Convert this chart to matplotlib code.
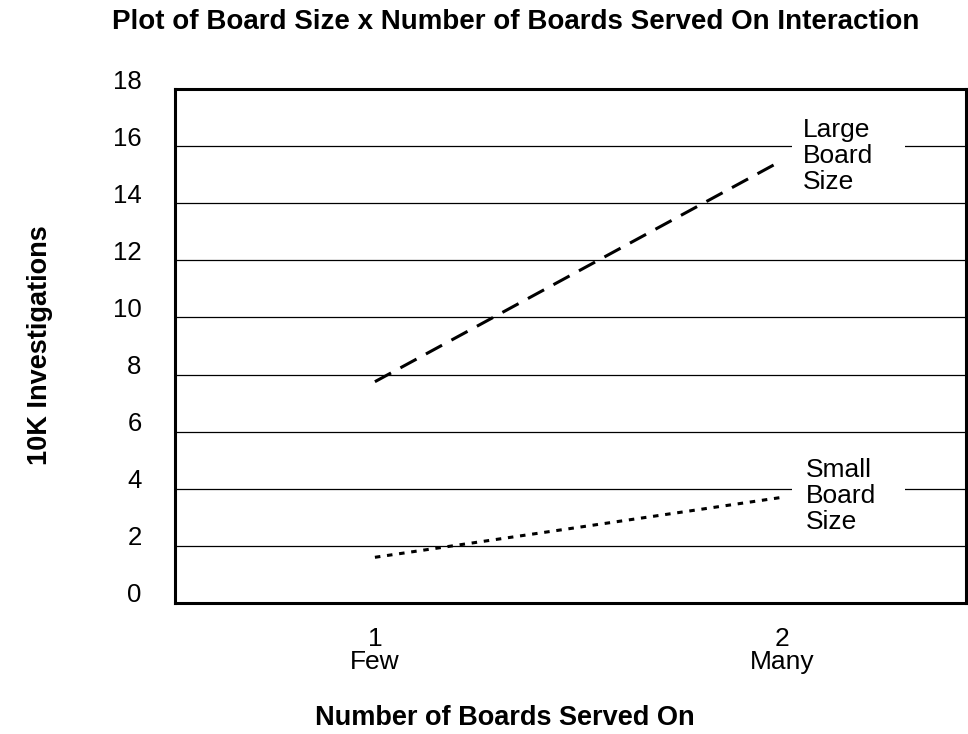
import matplotlib
matplotlib.use("Agg")
import matplotlib.pyplot as plt
import matplotlib.transforms as mtransforms
from matplotlib.patches import Rectangle

plt.rcParams['font.family'] = ['Liberation Sans', 'DejaVu Sans']

x_vals = [1, 2]
x_labels = ["1\nFew", "2\nMany"]
large_vals = [7.75, 15.5]
small_vals = [1.6, 3.7]
y_ticks = [0, 2, 4, 6, 8, 10, 12, 14, 16, 18]

fig = plt.figure(figsize=(9.68, 7.34), dpi=100)
ax = fig.add_axes([0.1808, 0.1785, 0.8172, 0.7002])

ax.set_xlim(0.509, 2.452)
ax.set_ylim(0, 18)

for yv in y_ticks[1:-1]:
    ax.axhline(yv, color='black', lw=0.9, zorder=1)

ax.plot(x_vals, large_vals, color='black', lw=2.2, dashes=(6, 3.5), zorder=3)
ax.plot(x_vals, small_vals, color='black', lw=2.2, dashes=(1.8, 2.2), zorder=3)

# white backgrounds behind the labels (break the gridlines)
ax.add_patch(Rectangle((2.025, 14.4), 0.277, 2.7, facecolor='white',
                       edgecolor='none', zorder=2))
ax.add_patch(Rectangle((2.025, 2.5), 0.277, 2.7, facecolor='white',
                       edgecolor='none', zorder=2))

ax.text(2.052, 15.65, "Large\nBoard\nSize", fontsize=19, va='center', ha='left',
        linespacing=1.1, zorder=4)
ax.text(2.059, 3.75, "Small\nBoard\nSize", fontsize=19, va='center', ha='left',
        linespacing=1.1, zorder=4)

for s in ax.spines.values():
    s.set_linewidth(2.2)
    s.set_color('black')

ax.set_yticks(y_ticks)
ax.set_yticklabels([str(v) for v in y_ticks], fontsize=18.5)
ax.set_xticks(x_vals)
ax.set_xticklabels(x_labels, fontsize=19, linespacing=0.95)
ax.tick_params(axis='both', length=0)
ax.tick_params(axis='y', pad=24)
ax.tick_params(axis='x', pad=17)

offset = mtransforms.ScaledTranslation(0, 10 / 100, fig.dpi_scale_trans)
for lbl in ax.get_yticklabels():
    lbl.set_transform(lbl.get_transform() + offset)

fig.text(516 / 968, 1 - 22 / 734, "Plot of Board Size x Number of Boards Served On Interaction",
         ha='center', va='center', fontsize=20, fontweight='bold')
fig.text(40 / 968, 1 - 345 / 734, "10K Investigations", rotation=90,
         ha='center', va='center', fontsize=19.5, fontweight='bold')
fig.text(505 / 968, 1 - 718 / 734, "Number of Boards Served On",
         ha='center', va='center', fontsize=19.5, fontweight='bold')

fig.savefig("out.png", dpi=100)
